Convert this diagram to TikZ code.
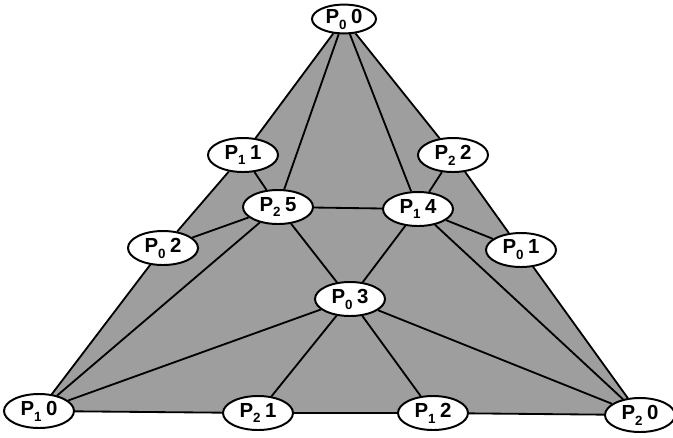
\documentclass[tikz,border=0pt]{standalone}
\usepackage{fontspec}
\setmainfont{Liberation Sans}
\usetikzlibrary{shapes.geometric,backgrounds}

% P with its index set low, then the number
\newcommand{\plab}[2]{P\lower.55ex\hbox{\fontsize{9.5}{9.5}\selectfont #1}\kern.22em #2}

\tikzset{
  vert/.style={ellipse,draw,fill=white,line width=1.4pt,inner sep=0pt,
    minimum width=1.75cm,minimum height=0.85cm,
    font=\fontsize{14.5}{16}\selectfont\bfseries},
  edge/.style={line width=1.3pt},
}

\begin{document}
\begin{tikzpicture}[x=0.025cm,y=-0.025cm]
  \useasboundingbox (0,0) rectangle (673,437);
  % corners
  \node[vert,minimum width=1.6cm,minimum height=0.72cm] (p00) at (344,19) {\plab{0}{0}};
  \node[vert] (p10) at (39,411) {\plab{1}{0}};
  \node[vert] (p20) at (640,415) {\plab{2}{0}};
  % on the sides
  \node[vert] (p11) at (243,155) {\plab{1}{1}};
  \node[vert] (p02) at (163,248) {\plab{0}{2}};
  \node[vert] (p22) at (453,155) {\plab{2}{2}};
  \node[vert] (p01) at (521,250) {\plab{0}{1}};
  \node[vert] (p21) at (258,413) {\plab{2}{1}};
  \node[vert] (p12) at (433,413) {\plab{1}{2}};
  % inside
  \node[vert] (p25) at (278,207) {\plab{2}{5}};
  \node[vert] (p14) at (418,209) {\plab{1}{4}};
  \node[vert] (p03) at (350,299) {\plab{0}{3}};

  \begin{scope}[on background layer]
    \fill[black!38] (p00.center) -- (p11.center) -- (p02.center) -- (p10.center)
      -- (p21.center) -- (p12.center) -- (p20.center) -- (p01.center)
      -- (p22.center) -- cycle;
    % outline
    \draw[edge] (p00) -- (p11) -- (p02) -- (p10) -- (p21) -- (p12) -- (p20)
      -- (p01) -- (p22) -- (p00);
    % inner edges
    \draw[edge] (p00) -- (p25);
    \draw[edge] (p00) -- (p14);
    \draw[edge] (p11) -- (p25);
    \draw[edge] (p22) -- (p14);
    \draw[edge] (p25) -- (p14);
    \draw[edge] (p02) -- (p25);
    \draw[edge] (p01) -- (p14);
    \draw[edge] (p25) -- (p03);
    \draw[edge] (p14) -- (p03);
    \draw[edge] (p25) -- (p10);
    \draw[edge] (p14) -- (p20);
    \draw[edge] (p03) -- (p10);
    \draw[edge] (p03) -- (p20);
    \draw[edge] (p03) -- (p21);
    \draw[edge] (p03) -- (p12);
  \end{scope}
\end{tikzpicture}
\end{document}
